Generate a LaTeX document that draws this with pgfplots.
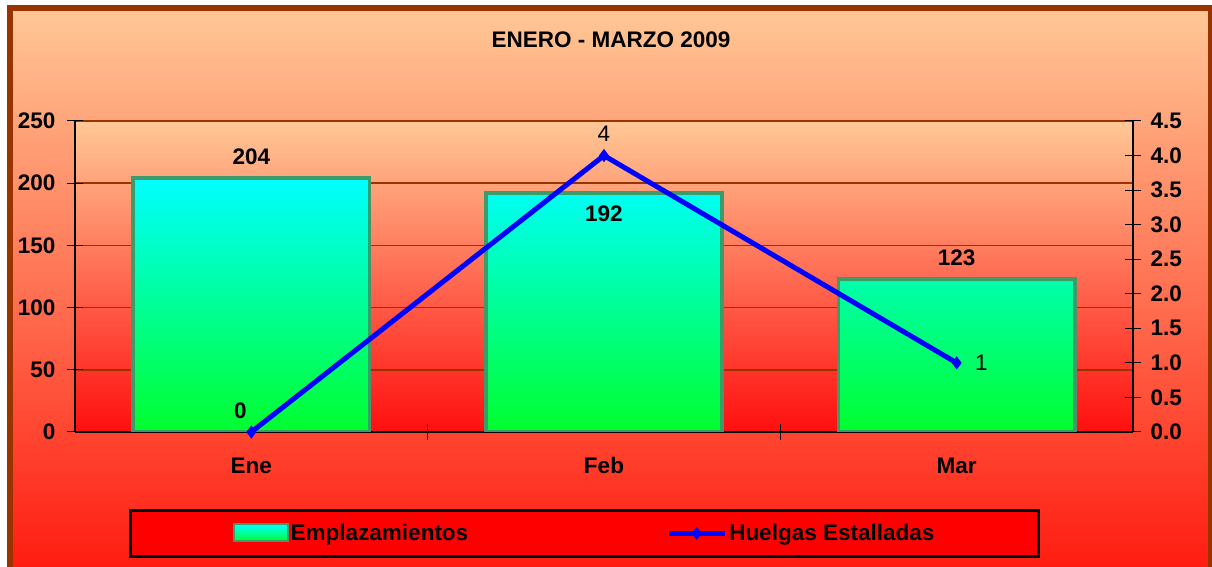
\documentclass[border=0pt]{standalone}
\usepackage{pgfplots}
\pgfplotsset{compat=1.18}
\usepackage{pgfplotstable}
\usepackage{fontspec}
\setmainfont{Liberation Sans}

\definecolor{peach}{RGB}{255,200,150}
\definecolor{bgbot}{RGB}{255,22,12}
\definecolor{plotbot}{RGB}{255,15,15}
\definecolor{framebrown}{RGB}{153,51,0}
\definecolor{barline}{RGB}{60,155,105}
\definecolor{bartop}{RGB}{0,255,255}
\definecolor{barmid}{RGB}{0,255,190}
\definecolor{barbot}{RGB}{0,255,45}

% anc/dx/dy place the value labels, fw=0 sets them in medium weight
\pgfplotstableread{
x y anc dx dy fw
0 204 90 0 8 1
1 192 -90 0 -8 1
2 123 90 0 8 1
}\emplaz
\pgfplotstableread{
x y anc dx dy fw
0 0 90 -11 9 1
1 4 90 0 10 0
2 1 0 14 0 0
}\huelgas

\newcommand\chartfont{\bfseries\fontsize{22.5}{27}\selectfont}

\pgfplotsset{
  /pgf/number format/assume math mode=true,
  mybase/.style={
    at={(75pt,135pt)}, anchor=south west,
    scale only axis, width=1058pt, height=311pt,
    xmin=-0.5, xmax=2.5, ymin=0,
    tick align=center, major tick length=16pt,
    tick style={black, line width=1pt},
    axis line style={black, line width=1.5pt, -},
    tick label style={font=\chartfont},
  },
  mylabels/.style={
    visualization depends on={\thisrow{anc}\as\nanc},
    visualization depends on={\thisrow{dx}\as\ndx},
    visualization depends on={\thisrow{dy}\as\ndy},
    visualization depends on={\thisrow{fw}\as\nfw},
    nodes near coords={\ifdim\nfw pt<0.5pt\mdseries\fi\pgfmathprintnumber{\pgfplotspointmeta}},
    nodes near coords style={anchor=\nanc+180, xshift=\ndx pt, yshift=\ndy pt,
      font=\chartfont, text=black},
  },
}

\begin{document}
\begin{tikzpicture}[x=1pt,y=1pt]
\useasboundingbox (0,0) rectangle (1212,567);
\fill[white] (0,0) rectangle (1212,567);
\shade[top color=peach, bottom color=bgbot] (10,-20) rectangle (1211,559);
\draw[framebrown, line width=6pt] (10,-20) rectangle (1211,559);
\node[font=\chartfont] at (611,527) {ENERO - MARZO 2009};

\begin{axis}[mybase,
  ymax=250,
  axis y line*=left, axis x line*=bottom,
  axis background/.style={top color=peach, bottom color=plotbot},
  ytick={0,50,100,150,200,250},
  yticklabel style={xshift=-8pt},
  xtick={0.5,1.5}, xticklabels={},
  extra x ticks={0,1,2}, extra x tick labels={Ene,Feb,Mar},
  extra x tick style={major tick length=0pt,
    xticklabel style={yshift=-22pt, text height=16pt, text depth=0pt}},
  ymajorgrids, major grid style={draw=framebrown, line width=1.5pt},
]
\addplot[ybar, bar width=0.67, draw=barline, line width=3.5pt,
  top color=bartop, middle color=barmid, bottom color=barbot, mylabels]
  table[x=x, y=y] {\emplaz};
\end{axis}

\begin{axis}[mybase,
  ymax=4.5,
  axis x line=none, axis y line*=right,
  ytick={0,0.5,1,1.5,2,2.5,3,3.5,4,4.5},
  yticklabel style={xshift=6pt, /pgf/number format/.cd, fixed, fixed zerofill, precision=1},
  clip=false,
  legend columns=2,
  legend cell align=left,
  legend style={at={(0.4816,-0.326)}, anchor=center, draw=black, line width=3pt,
    fill=red, inner xsep=102pt, inner ysep=12pt,
    font=\chartfont,
    /tikz/column 2/.style={column sep=196pt}},
]
\addlegendimage{legend image code/.code={
  \draw[draw=barline, line width=2pt, top color=bartop, bottom color=barbot]
    (0pt,-8pt) rectangle (54pt,9pt);}}
\addlegendentry{Emplazamientos}
\addplot[blue, line width=5pt, mark=diamond*, mark size=5pt,
  mark options={solid, fill=blue, line width=2pt}, mylabels,
  legend image code/.code={
    \draw[mark repeat=2, mark phase=2] plot coordinates {(0pt,0pt) (28pt,0pt) (56pt,0pt)};}]
  table[x=x, y=y] {\huelgas};
\addlegendentry{Huelgas Estalladas}
\end{axis}
\end{tikzpicture}
\end{document}
